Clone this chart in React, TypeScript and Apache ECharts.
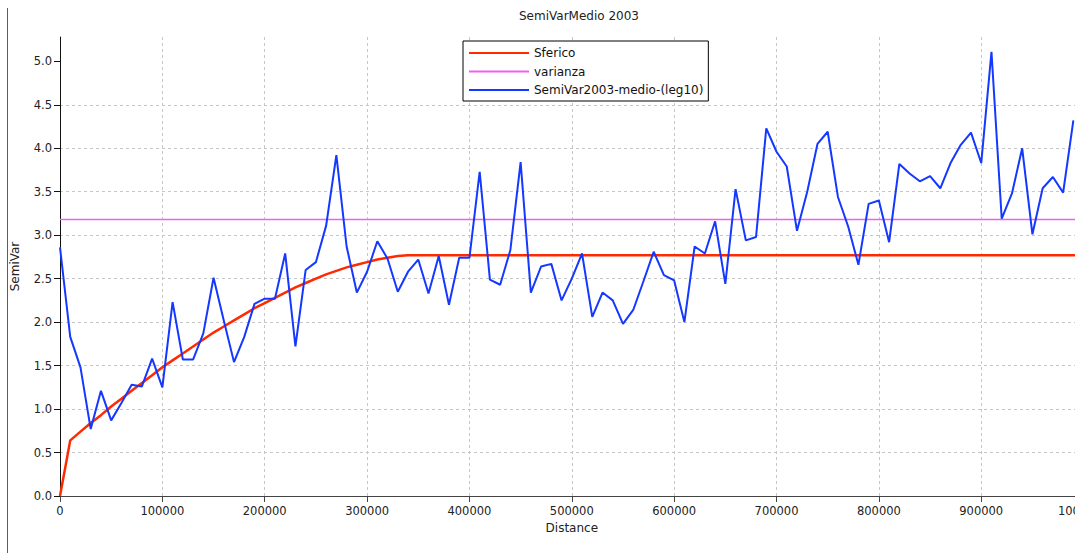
import React, { useEffect, useRef } from "react";
import * as echarts from "echarts";

const TITLE = "SemiVarMedio 2003";
const seriesNames = ["Sferico", "varianza", "SemiVar2003-medio-(leg10)"];

const yTicks = [0, 0.5, 1, 1.5, 2, 2.5, 3, 3.5, 4, 4.5, 5];

const sfericoDist = [
  0, 10000, 20000, 30000, 40000, 50000, 60000, 70000, 80000, 90000, 100000,
  110000, 120000, 130000, 140000, 150000, 160000, 170000, 180000, 190000, 200000,
  210000, 220000, 230000, 240000, 250000, 260000, 270000, 280000, 290000, 300000,
  310000, 320000, 330000, 340000, 1000000,
];
const sfericoVal = [
  0, 0.64, 0.74, 0.84, 0.93, 1.03, 1.12, 1.21, 1.3, 1.39, 1.48,
  1.56, 1.64, 1.72, 1.8, 1.88, 1.95, 2.02, 2.09, 2.16, 2.22,
  2.28, 2.34, 2.4, 2.45, 2.5, 2.55, 2.59, 2.63, 2.66, 2.69,
  2.72, 2.74, 2.76, 2.77, 2.77,
];

const varianzaDist = [0, 1000000];
const varianzaVal = [3.18, 3.18];

const semiVarDist = [
  0, 10000, 20000, 30000, 40000, 50000, 60000, 70000, 80000, 90000,
  100000, 110000, 120000, 130000, 140000, 150000, 160000, 170000, 180000, 190000,
  200000, 210000, 220000, 230000, 240000, 250000, 260000, 270000, 280000, 290000,
  300000, 310000, 320000, 330000, 340000, 350000, 360000, 370000, 380000, 390000,
  400000, 410000, 420000, 430000, 440000, 450000, 460000, 470000, 480000, 490000,
  500000, 510000, 520000, 530000, 540000, 550000, 560000, 570000, 580000, 590000,
  600000, 610000, 620000, 630000, 640000, 650000, 660000, 670000, 680000, 690000,
  700000, 710000, 720000, 730000, 740000, 750000, 760000, 770000, 780000, 790000,
  800000, 810000, 820000, 830000, 840000, 850000, 860000, 870000, 880000, 890000,
  900000, 910000, 920000, 930000, 940000, 950000, 960000, 970000, 980000, 990000,
];
const semiVarVal = [
  2.86, 1.83, 1.48, 0.77, 1.21, 0.87, 1.07, 1.28, 1.26, 1.58,
  1.25, 2.23, 1.57, 1.57, 1.87, 2.51, 2.02, 1.54, 1.83, 2.21,
  2.27, 2.27, 2.79, 1.72, 2.6, 2.69, 3.11, 3.92, 2.87, 2.34,
  2.58, 2.93, 2.73, 2.35, 2.58, 2.72, 2.33, 2.76, 2.2, 2.74,
  2.74, 3.73, 2.49, 2.43, 2.83, 3.84, 2.34, 2.64, 2.67, 2.25,
  2.5, 2.79, 2.06, 2.34, 2.25, 1.98, 2.14, 2.47, 2.81, 2.54,
  2.48, 2.0, 2.87, 2.79, 3.16, 2.44, 3.53, 2.94, 2.98, 4.23,
  3.96, 3.79, 3.05, 3.5, 4.05, 4.19, 3.44, 3.1, 2.66, 3.36,
  3.4, 2.92, 3.82, 3.71, 3.62, 3.68, 3.54, 3.83, 4.04, 4.18,
  3.83, 5.11, 3.19, 3.48, 4.0, 3.01, 3.54, 3.67, 3.49, 4.32,
];

const pairs = (xs: number[], ys: number[]) => xs.map((x, i) => [x, ys[i]]);

export default function App() {
  const ref = useRef<HTMLDivElement>(null);
  useEffect(() => {
    if (!ref.current) return;
    const chart = echarts.init(ref.current, null, { renderer: "svg" });
    const font = "DejaVu Sans";
    const gridLine = { show: true, lineStyle: { color: "#c6c6c6", type: [3, 3], width: 1 } };
    chart.setOption({
      animation: false,
      textStyle: { fontFamily: font },
      title: {
        text: TITLE,
        left: 519,
        top: 10,
        padding: 0,
        textStyle: { fontSize: 12, fontWeight: "normal", color: "#222", fontFamily: font },
      },
      legend: {
        orient: "vertical",
        left: 463,
        top: 41,
        padding: [6, 5, 5, 5],
        itemWidth: 60,
        itemHeight: 14,
        itemGap: 6.5,
        borderColor: "#000",
        borderWidth: 1,
        borderRadius: 0,
        backgroundColor: "#fff",
        itemStyle: { opacity: 0 },
        textStyle: { fontSize: 12, color: "#111", fontFamily: font },
        data: seriesNames,
      },
      graphic: [
        {
          type: "line",
          shape: { x1: 7.5, y1: 8, x2: 7.5, y2: 553 },
          style: { stroke: "#1f8a1f", lineWidth: 1 },
        },
      ],
      grid: {
        left: 60,
        top: 37,
        right: -8.6,
        bottom: 57,
        containLabel: false,
        outerBoundsMode: "none",
      },
      xAxis: {
        type: "value",
        min: 0,
        max: 1000000,
        interval: 100000,
        name: "Distance",
        nameLocation: "middle",
        nameGap: 24,
        nameTextStyle: { fontSize: 12, color: "#222", fontFamily: font },
        axisLine: { show: true, lineStyle: { color: "#444", width: 1 } },
        axisTick: { show: true, length: 6, lineStyle: { color: "#444" } },
        axisLabel: {
          fontSize: 11.5,
          color: "#222",
          margin: 9,
          fontFamily: font,
          formatter: (v: number) => String(v),
        },
        splitLine: gridLine,
      },
      yAxis: {
        type: "value",
        min: 0,
        max: 5.28,
        interval: 0.5,
        name: "SemiVar",
        nameLocation: "middle",
        nameGap: 39,
        nameTextStyle: { fontSize: 12, color: "#222", fontFamily: font },
        axisLine: { show: true, lineStyle: { color: "#111", width: 1 } },
        axisTick: { show: true, length: 6, customValues: yTicks, lineStyle: { color: "#111" } },
        axisLabel: {
          fontSize: 11.5,
          color: "#222",
          margin: 8,
          fontFamily: font,
          customValues: yTicks,
          formatter: (v: number) => v.toFixed(1),
        },
        splitLine: { ...gridLine, showMaxLine: false },
      },
      series: [
        {
          name: seriesNames[0],
          type: "line",
          data: pairs(sfericoDist, sfericoVal),
          symbol: "none",
          lineStyle: { color: "#ff2a00", width: 2.5 },
          itemStyle: { color: "#ff2a00" },
        },
        {
          name: seriesNames[1],
          type: "line",
          data: pairs(varianzaDist, varianzaVal),
          symbol: "none",
          lineStyle: { color: "#f060f0", width: 1.4 },
          itemStyle: { color: "#f060f0" },
        },
        {
          name: seriesNames[2],
          type: "line",
          data: pairs(semiVarDist, semiVarVal),
          symbol: "none",
          lineStyle: { color: "#1438ff", width: 2 },
          itemStyle: { color: "#1438ff" },
        },
      ],
    });
    return () => chart.dispose();
  }, []);
  return (
    <div
      ref={ref}
      style={{ position: "fixed", left: 0, top: 0, width: 1075, height: 553, background: "#fff" }}
    />
  );
}
